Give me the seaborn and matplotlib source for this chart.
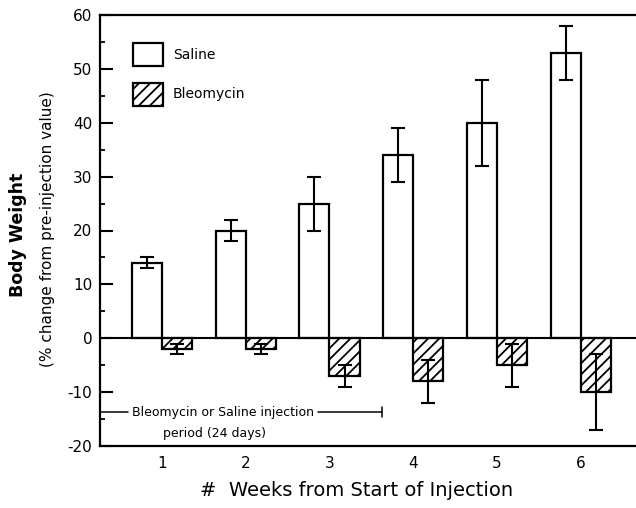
import numpy as np
import pandas as pd
import matplotlib
matplotlib.use("Agg")
import matplotlib.pyplot as plt
import seaborn as sns
from matplotlib.patches import Patch

# -----------------------------
# Data
# -----------------------------
weeks = ["1", "2", "3", "4", "5", "6"]
saline_mean = [14, 20, 25, 34, 40, 53]
saline_err = [1, 2, 5, 5, 8, 5]
bleomycin_mean = [-2, -2, -7, -8, -5, -10]
bleomycin_err = [1, 1, 2, 4, 4, 7]
groups = ["Saline", "Bleomycin"]

y_ticks = [-20, -10, 0, 10, 20, 30, 40, 50, 60]

df = pd.DataFrame({
    "week": weeks * 2,
    "group": [groups[0]] * len(weeks) + [groups[1]] * len(weeks),
    "change": saline_mean + bleomycin_mean,
})

# -----------------------------
# Plot
# -----------------------------
sns.set_theme(style="ticks")
plt.rcParams["font.family"] = ["DejaVu Sans"]
plt.rcParams["hatch.linewidth"] = 1.3
plt.rcParams["axes.unicode_minus"] = False
for key in ["text.color", "axes.labelcolor", "xtick.color", "ytick.color"]:
    plt.rcParams[key] = "black"

fig = plt.figure(figsize=(6.36, 5.08), dpi=100)
ax = fig.add_axes([100 / 636, 62 / 508, 536 / 636, 431 / 508])

sns.barplot(
    data=df, x="week", y="change", hue="group", order=weeks,
    hue_order=groups, palette=["white", "white"], width=0.72,
    errorbar=None, edgecolor="black", linewidth=1.6, saturation=1,
    legend=False, ax=ax,
)

errs = [saline_err, bleomycin_err]
for container, err, hatch in zip(ax.containers, errs, ["", "///"]):
    xs = [p.get_x() + p.get_width() / 2 for p in container.patches]
    ys = [p.get_height() for p in container.patches]
    for p in container.patches:
        p.set_hatch(hatch)
    ax.errorbar(xs, ys, yerr=err, fmt="none", ecolor="black",
                elinewidth=1.5, capsize=5.2, capthick=1.5, zorder=5)

ax.axhline(0, color="black", linewidth=1.5, zorder=4)

ax.set_ylim(-20, 60)
ax.set_xlim(-0.74, 5.66)
ax.set_yticks(y_ticks)
ax.set_yticks(np.arange(-15, 60, 10), minor=True)
ax.tick_params(axis="y", direction="in", length=9, width=1.5,
               labelsize=11, pad=5.5)
ax.tick_params(axis="y", which="minor", direction="in", length=3.5, width=1.3)
ax.tick_params(axis="x", length=0, labelsize=11, pad=7)
ax.set_xlabel("")
ax.set_ylabel("")

for side in ["left", "top", "bottom"]:
    ax.spines[side].set_linewidth(1.6)
    ax.spines[side].set_color("black")
ax.spines["right"].set_visible(False)

# injection period annotation
inj_y = -13.7
inj_end = 2.63
ax.plot([-0.74, -0.41], [inj_y, inj_y], color="black", linewidth=1.1)
ax.plot([1.86, inj_end], [inj_y, inj_y], color="black", linewidth=1.1)
ax.plot([inj_end, inj_end], [inj_y - 0.9, inj_y + 0.9], color="black",
        linewidth=1.1)
ax.plot([-0.735, -0.735], [inj_y - 0.9, inj_y + 0.9], color="black",
        linewidth=1.1)
ax.text(0.73, inj_y, "Bleomycin or Saline injection", ha="center",
        va="center", fontsize=9)
ax.text(0.63, -17.6, "period (24 days)", ha="center", va="center",
        fontsize=9)

# legend
handles = [
    Patch(facecolor="white", edgecolor="black", linewidth=1.6, label="Saline"),
    Patch(facecolor="white", edgecolor="black", linewidth=1.6, hatch="///",
          label="Bleomycin"),
]
ax.legend(handles=handles, loc="upper left", bbox_to_anchor=(0.039, 0.965),
          frameon=False, fontsize=10, handlelength=2.1, handleheight=2.2,
          labelspacing=1.2, handletextpad=0.75)

# axis labels
fig.text(0.028, 0.537, "Body Weight", rotation=90, ha="center", va="center",
         fontsize=12.5, fontweight="bold")
fig.text(0.074, 0.549, "(% change from pre-injection value)", rotation=90,
         ha="center", va="center", fontsize=11)
fig.text(0.561, 0.035, "#  Weeks from Start of Injection", ha="center",
         va="center", fontsize=14)

fig.savefig("out.png", dpi=100)
plt.close(fig)
